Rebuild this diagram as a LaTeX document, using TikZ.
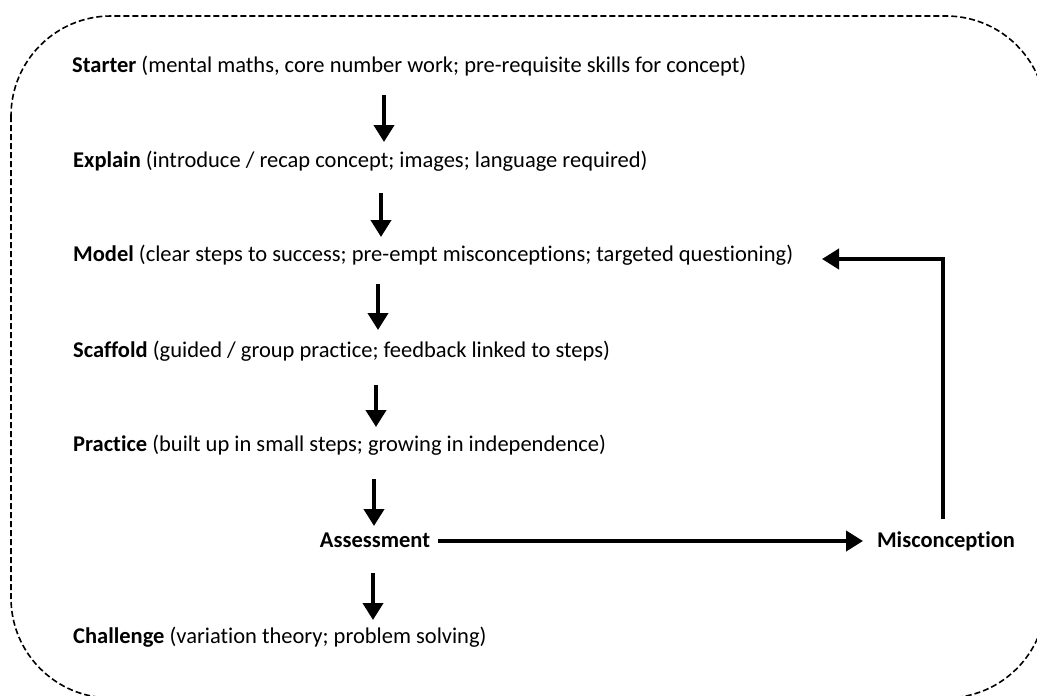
\documentclass[tikz,border=0pt]{standalone}
\usepackage{fontspec}
\setmainfont{Carlito}[Ligatures={NoCommon}]
\usetikzlibrary{arrows.meta}
\begin{document}
\begin{tikzpicture}[x=1pt,y=-1pt,
  txt/.style={anchor=base west,inner sep=0pt,font=\fontsize{22.5}{27}\selectfont},
  lbl/.style={anchor=base,inner sep=0pt,font=\fontsize{22.5}{27}\selectfont\bfseries},
  flow/.style={line width=4pt,-{Triangle[width=20pt,length=17pt]}},
  frame/.style={line width=1.6pt,dash pattern=on 6pt off 3pt,rounded corners=100pt}]
\useasboundingbox (0,0) rectangle (1037,696);
\draw[frame] (11,16) rectangle (1046,698);
\node[txt] (starter) at (72,72) {\textbf{Starter} (mental maths, core number work; pre-requisite skills for concept)};
\node[txt] (explain) at (73,167) {\textbf{Explain} (introduce / recap concept; images; language required)};
\node[txt] (model) at (73,261) {\textbf{Model} (clear steps to success; pre-empt misconceptions; targeted questioning)};
\node[txt] (scaffold) at (73,357) {\textbf{Scaffold} (guided / group practice; feedback linked to steps)};
\node[txt] (practice) at (73,451) {\textbf{Practice} (built up in small steps; growing in independence)};
\node[lbl] (assess) at (375,547) {Assessment};
\node[lbl] (miscon) at (946,547) {Misconception};
\node[txt] (challenge) at (73,643) {\textbf{Challenge} (variation theory; problem solving)};
\coordinate (a1s) at (384,95); \coordinate (a1e) at (384,142);
\coordinate (a2s) at (381,193); \coordinate (a2e) at (381,237);
\coordinate (a3s) at (378,284); \coordinate (a3e) at (378,330);
\coordinate (a4s) at (376,385); \coordinate (a4e) at (376,427);
\coordinate (a5s) at (374,479); \coordinate (a5e) at (374,526);
\coordinate (a6s) at (373,573); \coordinate (a6e) at (373,620);
\draw[flow] (a1s) -- (a1e);
\draw[flow] (a2s) -- (a2e);
\draw[flow] (a3s) -- (a3e);
\draw[flow] (a4s) -- (a4e);
\draw[flow] (a5s) -- (a5e);
\draw[flow] (a6s) -- (a6e);
\coordinate (h1) at (438,541);
\coordinate (h2) at (863,541);
\draw[flow] (h1) -- (h2);
\coordinate (fb1) at (943,519);
\coordinate (fbc) at (943,259);
\coordinate (fb2) at (822,259);
\draw[flow,line join=miter] (fb1) -- (fbc) -- (fb2);
\end{tikzpicture}
\end{document}
